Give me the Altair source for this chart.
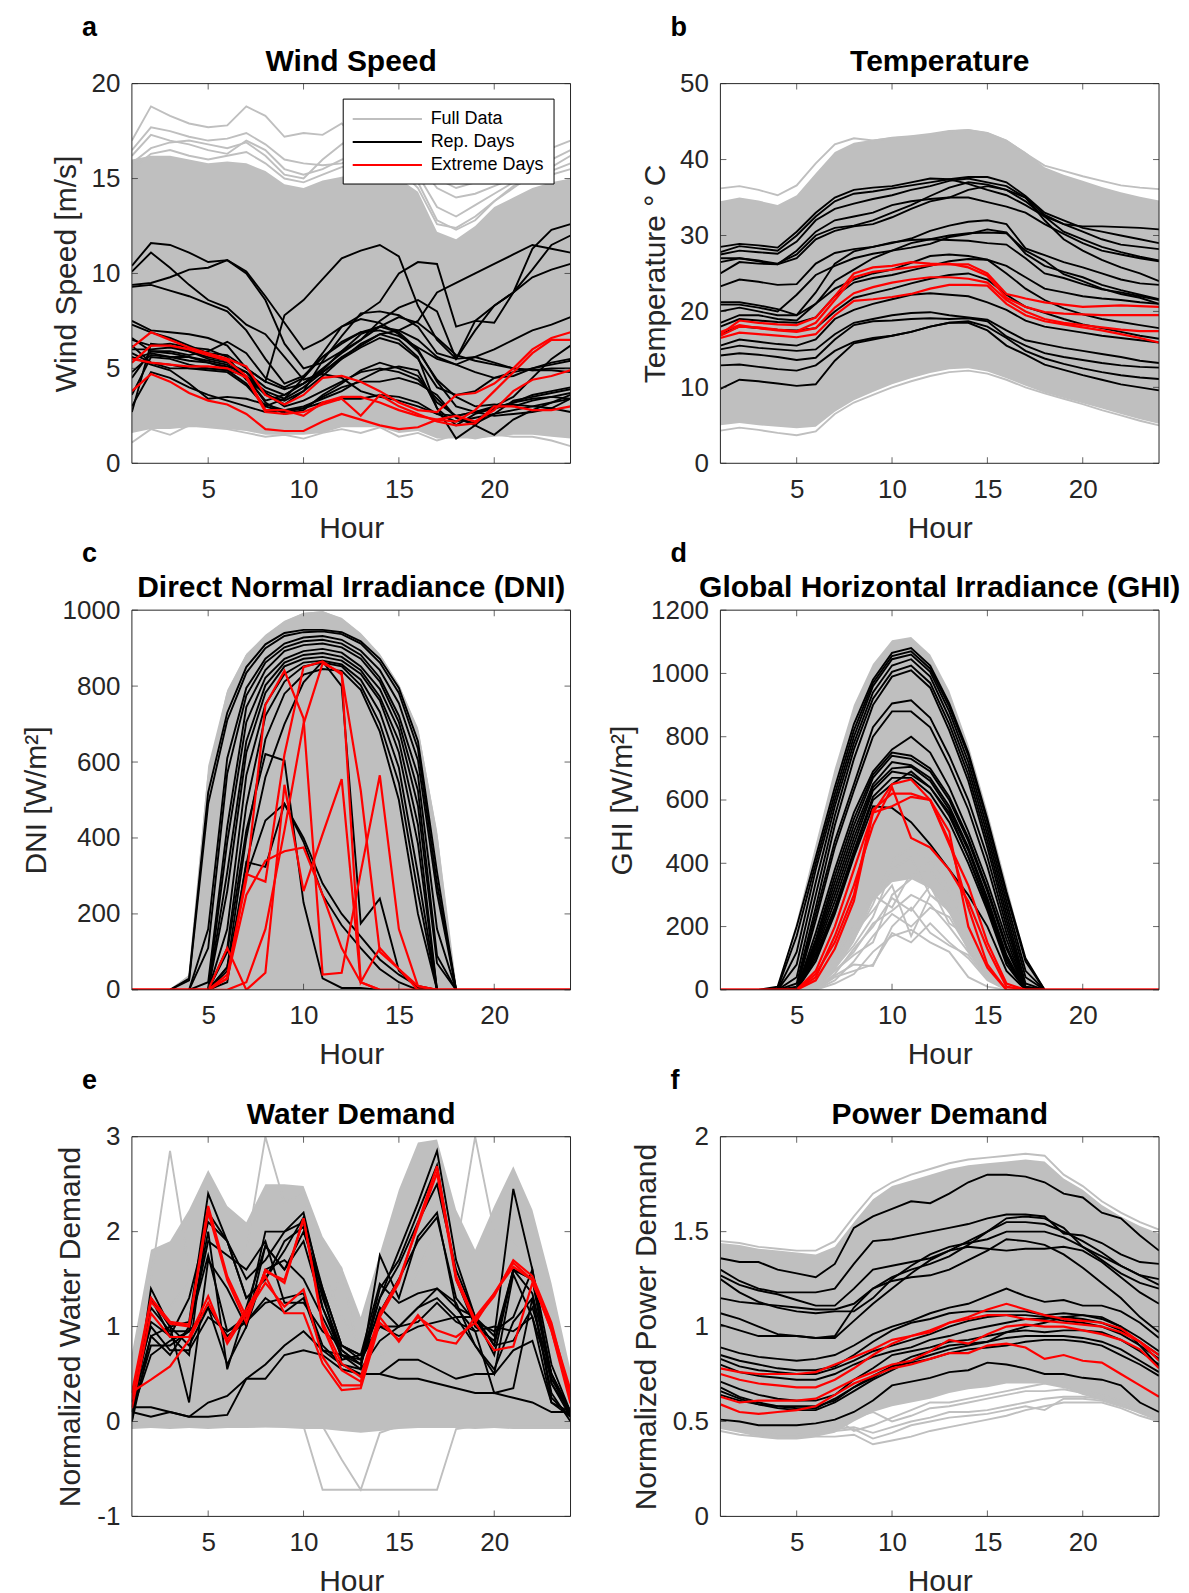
import altair as alt
import pandas as pd

FONT = "Liberation Sans"
AX = "#262626"
GRAY = "#bfbfbf"
CATS = ["Full Data", "Rep. Days", "Extreme Days"]
COLS = [GRAY, "#000000", "#ff0000"]
W, H = 439, 380
HOURS = list(range(1, 25))
X_TICKS = [5, 10, 15, 20]

# ---------------- a: Wind Speed ----------------
wind_hi = [16.0,16.2,16.2,16.0,15.8,15.9,15.8,15.4,14.7,14.5,14.9,15.1,15.3,15.1,15.0,14.3,12.2,11.8,12.5,13.5,14.0,14.5,14.8,15.0]
wind_lo = [1.6,1.8,1.8,1.9,1.9,1.8,1.7,1.5,1.5,1.5,1.6,1.9,1.9,1.9,1.6,1.7,1.3,1.3,1.3,1.4,1.5,1.5,1.4,1.3]
wind_gray = [
    [17.0,18.8,18.3,17.9,17.7,17.8,18.8,18.3,17.2,17.4,17.3,17.9,16.8,16.4,16.0,15.6,15.0,14.5,14.8,15.3,15.8,16.2,16.6,17.0],
    [16.5,17.7,17.5,17.2,17.0,17.1,17.4,16.8,16.0,15.8,15.7,15.8,16.2,16.0,15.5,14.5,12.6,12.4,13.0,13.8,14.5,15.2,15.6,16.2],
    [15.8,16.6,16.9,17.0,16.8,16.6,16.9,16.2,15.2,15.0,16.0,16.8,17.5,17.0,16.0,15.8,14.5,14.0,14.2,14.6,15.0,15.4,15.2,15.5],
    [16.2,17.3,17.0,16.8,16.5,16.3,17.0,16.5,15.5,15.2,15.5,16.0,16.3,16.2,15.8,15.2,13.5,13.0,13.6,14.2,14.8,15.5,16.0,16.5],
    [15.5,16.3,16.5,16.2,16.0,16.2,16.4,15.8,15.0,14.8,15.2,15.6,15.8,15.5,15.3,14.8,12.8,12.3,12.8,13.8,14.6,15.0,15.4,15.8],
    [1.1,1.8,1.5,2.0,1.9,1.8,1.6,1.4,1.5,1.3,1.6,1.8,1.6,1.9,1.4,1.6,1.2,1.5,1.3,1.5,1.4,1.4,1.2,0.9],
]
wind_rep = [
    [10.4,11.6,11.5,11.1,10.6,10.7,10.0,8.6,6.3,5.0,5.3,5.9,6.5,7.2,7.7,7.4,6.6,5.7,5.4,5.2,5.0,4.9,5.0,5.0],
    [10.1,11.1,10.3,9.4,8.6,8.2,7.3,6.8,5.6,4.4,4.7,4.5,3.8,3.5,3.3,3.0,2.6,2.5,2.7,2.5,2.6,2.7,2.9,3.4],
    [9.4,9.5,9.8,10.2,10.3,10.7,10.1,8.8,7.4,6.0,6.5,7.2,7.6,7.4,6.8,5.9,4.4,3.5,3.0,3.1,3.0,3.3,3.5,3.7],
    [9.3,9.4,9.1,8.8,8.4,8.0,7.0,5.5,4.2,4.6,5.6,6.4,6.9,7.0,6.7,6.1,5.5,5.2,4.8,4.5,4.6,5.0,5.3,5.5],
    [7.3,6.9,6.6,6.2,5.8,5.7,5.0,4.3,7.8,8.6,9.7,10.8,11.2,11.5,10.9,8.3,6.5,5.5,5.6,5.3,5.0,4.9,4.9,4.8],
    [6.6,5.9,5.9,5.7,5.9,6.4,5.8,4.5,4.0,4.5,5.8,7.2,7.8,8.5,10.0,10.6,10.5,7.2,7.5,7.4,9.0,11.3,12.3,12.6],
    [6.0,6.0,6.1,5.9,5.5,5.3,4.8,4.0,3.6,4.2,5.0,5.8,6.5,7.5,8.2,8.6,8.0,5.5,7.0,8.3,9.0,10.2,11.5,12.0],
    [5.5,5.8,5.6,5.4,5.3,5.0,4.6,3.8,3.4,4.0,4.8,5.6,6.2,6.8,7.0,7.5,9.0,9.5,10.0,10.5,11.0,11.5,11.3,11.1],
    [4.8,5.7,5.6,5.6,5.3,5.1,4.8,3.7,3.1,3.8,5.4,6.7,7.9,8.0,7.8,7.2,5.8,5.5,7.5,8.3,9.0,9.8,10.2,10.5],
    [3.6,5.6,5.5,5.2,5.0,4.9,4.2,3.0,3.4,4.5,5.6,6.3,6.9,7.2,7.0,6.5,5.6,5.2,5.6,6.0,6.5,7.0,7.3,7.7],
    [2.7,6.3,6.2,5.9,5.6,5.4,4.5,3.3,3.6,4.2,4.8,5.5,6.1,6.6,6.3,5.5,4.0,3.6,3.8,4.5,4.8,5.0,5.2,5.4],
    [6.2,5.3,5.0,5.0,5.0,4.9,4.6,3.2,2.6,2.8,3.6,4.2,4.9,5.3,5.0,4.6,3.2,2.5,2.7,2.9,3.2,3.6,3.8,4.0],
    [5.6,5.2,4.9,4.2,3.4,3.5,3.4,3.1,2.8,2.9,3.2,3.4,3.4,3.6,3.5,3.2,2.6,2.2,2.4,2.6,2.8,3.0,3.2,3.6],
    [3.0,4.8,4.5,4.0,3.6,3.3,3.0,2.7,2.8,3.0,3.4,3.8,4.4,4.9,5.1,4.9,2.9,2.0,2.6,2.9,3.2,3.4,3.5,3.4],
    [4.5,5.9,5.8,5.6,5.4,5.2,4.6,3.6,3.3,3.8,4.6,5.5,6.3,6.8,6.5,5.6,2.9,1.3,2.0,2.9,3.1,3.0,2.9,2.7],
    [5.8,5.3,5.2,5.0,4.9,4.8,4.1,3.0,2.7,2.9,3.5,4.0,4.3,4.3,4.5,4.2,3.6,2.4,2.0,1.5,2.3,2.8,3.2,3.4],
    [6.5,6.2,6.3,6.1,6.0,5.6,4.4,3.7,3.0,3.3,3.8,4.3,4.8,5.0,4.8,4.4,3.4,2.4,2.1,2.6,3.3,3.5,3.7,3.9],
    [7.5,7.0,6.9,6.8,6.6,6.2,5.0,4.3,3.9,4.2,4.9,5.9,6.8,7.2,6.9,6.0,4.3,3.0,2.7,3.0,3.5,4.5,5.5,6.2],
]
wind_ext = [
    [6.1,6.9,6.5,6.1,5.8,5.5,5.1,3.6,3.1,3.6,4.5,4.6,4.3,3.8,3.2,2.8,2.7,3.6,3.7,4.2,5.0,6.0,6.6,6.9],
    [5.3,6.2,6.2,6.0,5.7,5.4,4.6,2.8,2.8,2.5,3.2,3.5,3.5,3.2,2.8,2.5,2.3,2.2,2.8,3.8,4.8,5.8,6.5,6.5],
    [3.8,4.7,4.3,3.7,3.3,3.1,2.6,1.8,1.7,1.7,2.2,2.6,2.3,2.0,1.8,1.9,2.3,2.5,2.2,2.8,3.8,4.4,4.6,4.9],
    [5.5,5.3,5.2,5.1,5.1,5.0,4.5,2.7,2.6,2.7,3.1,3.4,2.5,3.6,3.0,2.6,2.2,2.0,2.1,3.0,3.0,2.8,2.8,3.0],
]

# ---------------- b: Temperature ----------------
temp_hi = [34.5,35.0,34.6,34.0,35.3,38.2,41.0,42.2,42.6,43.0,43.2,43.5,43.9,44.0,43.6,42.6,41.0,39.0,38.0,37.2,36.4,35.7,35.1,34.6]
temp_lo = [5.0,5.3,5.0,4.8,4.6,4.8,6.8,8.3,9.4,10.4,11.2,11.9,12.4,12.5,12.1,11.2,10.2,9.3,8.6,7.9,7.2,6.5,5.8,5.2]
temp_gray = [
    [36.2,36.5,36.0,35.3,36.6,39.5,42.0,42.8,42.5,42.8,43.0,43.2,43.7,43.9,43.5,42.5,40.8,39.2,38.5,37.8,37.2,36.6,36.3,36.1],
    [4.3,4.7,4.4,4.0,3.7,4.2,6.5,8.0,9.0,10.0,10.8,11.5,12.0,12.2,11.8,11.0,10.0,9.2,8.5,7.8,7.0,6.3,5.6,5.0],
]
temp_rep = [
    [28.5,28.9,28.7,28.4,30.5,33.0,35.0,36.0,36.3,36.5,37.0,37.5,37.4,36.8,36.0,35.3,34.0,32.5,31.5,31.2,31.2,31.1,31.0,30.8],
    [27.8,28.6,28.3,28.0,30.0,32.5,34.5,35.5,35.8,36.2,36.6,37.0,37.4,37.7,37.7,37.0,35.2,33.0,32.0,31.0,30.5,30.0,29.5,29.0],
    [27.5,28.0,27.8,27.6,29.2,32.0,33.5,34.2,34.8,35.3,36.0,36.5,37.2,37.5,37.0,36.5,35.0,32.7,31.5,30.5,29.5,28.8,28.5,28.2],
    [27.0,27.0,26.6,26.2,28.0,30.5,32.0,32.5,33.0,34.0,34.5,34.8,35.0,35.0,34.4,33.8,33.0,31.5,30.2,29.0,28.0,27.5,27.0,26.6],
    [26.5,27.0,26.7,26.3,27.5,30.0,31.0,31.3,32.0,33.0,34.0,35.2,36.3,37.0,36.7,36.0,34.5,32.5,30.5,29.5,28.5,27.8,27.2,26.7],
    [25.0,26.5,26.3,26.2,27.0,29.5,30.6,31.2,31.5,32.4,33.5,34.5,35.0,36.0,36.5,36.0,35.0,32.0,29.5,28.0,26.8,25.8,25.0,24.0],
    [23.3,24.2,23.9,23.5,23.6,26.3,27.7,28.2,28.5,29.0,29.6,30.6,31.3,31.8,32.0,31.5,28.3,27.4,26.5,25.8,25.0,24.2,23.7,23.5],
    [21.2,21.2,20.8,20.3,19.5,22.5,26.3,27.9,28.5,29.1,29.4,29.5,29.4,29.3,29.0,28.8,27.0,25.0,24.4,23.6,22.9,22.5,22.0,21.5],
    [20.9,20.9,20.5,20.0,22.2,24.8,26.0,27.0,27.6,28.0,28.4,28.9,29.8,30.2,30.8,30.4,27.6,26.0,25.2,24.5,23.5,22.8,22.2,21.6],
    [20.0,20.5,20.0,19.5,19.5,21.0,24.0,25.5,27.0,28.0,29.0,29.5,30.0,30.3,30.4,30.3,28.0,26.7,24.9,24.0,23.0,22.3,21.8,21.0],
    [18.5,19.5,19.5,19.0,18.8,21.0,23.0,24.2,25.0,25.5,26.4,27.3,27.5,27.3,26.8,26.0,24.5,23.0,22.5,22.0,21.7,21.5,21.2,21.0],
    [18.0,19.0,18.8,18.6,18.5,19.2,22.0,23.8,24.4,24.8,25.4,26.0,26.6,26.9,26.8,25.0,23.0,21.5,20.4,19.6,19.0,18.6,18.2,17.8],
    [17.0,18.0,17.8,17.6,17.5,17.8,20.0,21.8,22.4,23.0,23.7,24.3,24.8,25.0,24.2,22.2,20.6,19.8,19.0,18.3,17.8,17.3,16.8,16.4],
    [15.5,16.3,16.0,15.7,15.5,16.3,19.0,20.2,21.0,21.6,22.2,22.4,22.2,22.0,21.2,20.2,18.8,18.0,17.6,17.2,16.8,16.5,16.2,15.9],
    [15.0,15.5,15.2,15.0,14.8,15.0,17.0,18.5,19.0,19.5,19.8,19.9,19.5,19.2,18.9,17.5,16.2,15.7,15.2,14.8,14.4,14.0,13.5,13.2],
    [14.2,14.5,14.3,14.0,13.6,13.9,16.3,18.2,18.7,18.8,19.0,19.1,19.0,19.1,18.7,16.7,15.5,14.5,14.0,13.6,13.2,12.9,12.7,12.6],
    [12.9,13.0,12.7,12.4,12.2,12.9,14.8,16.0,16.5,16.8,17.3,18.0,18.5,18.7,18.0,16.5,14.8,13.8,13.1,12.5,12.0,11.6,11.3,11.1],
    [9.8,11.0,10.8,10.5,10.2,10.4,13.5,15.8,16.3,16.8,17.3,18.0,18.5,18.5,17.5,15.5,14.3,13.0,12.3,11.6,11.0,10.4,10.0,9.6],
]
temp_ext = [
    [17.0,18.8,18.5,18.3,18.2,19.2,22.0,25.0,25.8,26.0,26.5,26.3,26.2,26.2,25.0,22.3,21.7,21.2,20.9,20.6,20.7,20.8,20.7,20.6],
    [16.8,18.0,17.9,17.6,17.4,18.5,21.5,24.5,25.2,25.5,25.8,26.1,26.3,25.8,24.7,21.8,20.6,19.9,19.7,19.6,19.5,19.5,19.5,19.5],
    [17.3,18.2,17.8,17.5,17.3,17.8,20.5,22.4,23.2,23.8,24.2,24.5,24.5,24.3,23.8,21.5,20.0,19.0,18.5,18.2,17.9,17.6,17.4,17.4],
    [16.5,17.2,17.0,16.8,16.6,17.0,19.5,21.4,21.6,21.9,22.3,23.0,23.5,23.5,23.4,21.0,19.5,18.7,18.3,17.9,17.5,17.0,16.5,15.9],
]

# ---------------- c: DNI ----------------
dni_hi = [0,0,0,40,590,790,885,935,972,993,997,980,940,885,805,690,420,0,0,0,0,0,0,0]
dni_lo = [0,0,0,0,0,0,0,0,0,0,0,0,0,0,0,0,0,0,0,0,0,0,0,0]
dni_gray = [
    [0,0,0,35,560,780,880,930,968,990,995,975,935,880,800,680,400,0,0,0,0,0,0,0],
]
dni_rep = [
    [0,0,0,30,520,730,850,910,940,948,948,942,918,872,795,655,310,0,0,0,0,0,0,0],
    [0,0,0,25,490,710,835,900,932,942,944,937,912,862,782,635,280,0,0,0,0,0,0,0],
    [0,0,0,0,160,610,795,872,912,928,932,922,893,842,755,605,255,0,0,0,0,0,0,0],
    [0,0,0,0,110,570,775,862,902,918,922,912,882,822,722,565,160,0,0,0,0,0,0,0],
    [0,0,0,0,20,430,745,842,892,908,912,902,872,812,705,525,90,0,0,0,0,0,0,0],
    [0,0,0,0,0,390,705,822,872,892,898,888,852,792,685,485,70,0,0,0,0,0,0,0],
    [0,0,0,0,0,310,655,802,862,882,887,877,842,772,655,435,0,0,0,0,0,0,0,0],
    [0,0,0,0,0,260,625,782,852,872,877,867,832,762,625,385,0,0,0,0,0,0,0,0],
    [0,0,0,0,0,160,565,752,832,862,867,857,817,732,585,305,0,0,0,0,0,0,0,0],
    [0,0,0,0,0,110,485,722,812,852,862,852,802,702,545,255,0,0,0,0,0,0,0,0],
    [0,0,0,0,0,60,400,660,780,830,845,840,790,680,500,200,0,0,0,0,0,0,0,0],
    [0,0,0,0,0,20,337,324,490,400,280,200,140,80,40,10,0,0,0,0,0,0,0,0],
    [0,0,0,0,0,60,300,446,490,390,250,170,110,55,20,0,0,0,0,0,0,0,0,0],
    [0,0,0,0,0,100,420,621,604,230,30,5,5,0,0,0,0,0,0,0,0,0,0,0],
    [0,0,0,0,0,50,330,560,700,810,865,800,175,240,50,5,0,0,0,0,0,0,0,0],
]
dni_ext = [
    [0,0,0,0,0,40,290,750,840,715,40,45,310,565,160,10,0,0,0,0,0,0,0,0],
    [0,0,0,0,0,110,0,45,540,260,410,555,20,0,0,0,0,0,0,0,0,0,0,0],
    [0,0,0,0,0,30,250,340,365,375,250,110,20,0,0,0,0,0,0,0,0,0,0,0],
    [0,0,0,0,0,30,305,285,620,850,865,830,525,100,55,10,0,0,0,0,0,0,0,0],
    [0,0,0,0,0,0,20,160,420,700,860,835,20,110,55,0,0,0,0,0,0,0,0,0],
]

# ---------------- d: GHI ----------------
ghi_hi = [0,0,0,10,215,460,700,900,1030,1105,1115,1060,945,775,565,335,100,0,0,0,0,0,0,0]
ghi_lo = [0,0,0,0,0,10,60,150,280,340,350,320,240,120,30,0,0,0,0,0,0,0,0,0]
ghi_gray = [
    [0,0,0,0,0,0,40,60,80,180,150,210,150,100,30,0,0,0,0,0,0,0,0,0],
    [0,0,0,0,0,10,60,120,210,250,300,270,200,120,40,0,0,0,0,0,0,0,0,0],
    [0,0,0,0,0,15,100,180,250,330,170,300,250,150,60,0,0,0,0,0,0,0,0,0],
    [0,0,0,0,0,20,120,200,300,260,370,380,300,200,80,0,0,0,0,0,0,0,0,0],
    [0,0,0,0,0,5,50,130,200,290,250,330,210,170,50,0,0,0,0,0,0,0,0,0],
    [0,0,0,0,0,10,70,140,230,380,420,300,260,160,60,0,0,0,0,0,0,0,0,0],
    [0,0,0,0,0,0,30,90,170,240,200,260,230,130,50,0,0,0,0,0,0,0,0,0],
    [0,0,0,0,0,5,60,110,150,300,350,420,330,230,90,10,0,0,0,0,0,0,0,0],
    [0,0,0,0,0,0,45,80,75,200,260,180,140,110,35,0,0,0,0,0,0,0,0,0],
    [0,0,0,0,0,20,90,160,270,410,450,400,350,260,120,20,0,0,0,0,0,0,0,0],
    [0,0,0,0,0,0,20,50,120,170,190,150,120,40,10,0,0,0,0,0,0,0,0,0],
]
ghi_rep = [
    [0,0,0,10,200,420,640,840,980,1065,1080,1025,905,750,540,310,100,0,0,0,0,0,0,0],
    [0,0,0,5,170,400,620,820,970,1055,1070,1015,895,740,530,300,90,0,0,0,0,0,0,0],
    [0,0,0,0,120,380,600,800,960,1045,1060,1005,880,720,510,280,60,0,0,0,0,0,0,0],
    [0,0,0,0,80,340,580,780,940,1025,1045,990,860,700,490,260,40,0,0,0,0,0,0,0],
    [0,0,0,0,40,300,550,760,920,1005,1025,970,840,680,470,240,20,0,0,0,0,0,0,0],
    [0,0,0,0,20,260,520,730,900,990,1010,955,820,660,450,220,10,0,0,0,0,0,0,0],
    [0,0,0,0,10,240,470,650,830,905,915,860,740,600,420,200,10,0,0,0,0,0,0,0],
    [0,0,0,0,5,220,450,630,800,880,880,830,710,570,390,180,5,0,0,0,0,0,0,0],
    [0,0,0,0,0,180,380,560,690,760,800,750,640,500,340,160,0,0,0,0,0,0,0,0],
    [0,0,0,0,0,160,360,540,680,750,740,700,610,480,320,140,0,0,0,0,0,0,0,0],
    [0,0,0,0,0,150,340,520,670,740,730,690,600,470,310,130,0,0,0,0,0,0,0,0],
    [0,0,0,0,0,140,320,500,650,720,710,670,580,450,290,110,0,0,0,0,0,0,0,0],
    [0,0,0,0,0,130,300,480,640,700,705,660,570,440,280,100,0,0,0,0,0,0,0,0],
    [0,0,0,0,0,120,280,460,630,690,680,640,550,420,260,90,0,0,0,0,0,0,0,0],
    [0,0,0,0,0,110,260,440,610,670,670,620,530,400,250,80,0,0,0,0,0,0,0,0],
    [0,0,0,0,0,90,240,420,580,575,530,460,380,300,200,60,0,0,0,0,0,0,0,0],
    [0,0,0,0,0,100,250,430,600,650,690,640,560,420,270,100,5,0,0,0,0,0,0,0],
]
ghi_ext = [
    [0,0,0,0,0,60,200,380,560,650,665,600,460,330,150,20,0,0,0,0,0,0,0,0],
    [0,0,0,0,0,40,170,330,520,640,480,450,380,280,130,10,0,0,0,0,0,0,0,0],
    [0,0,0,0,0,50,150,300,570,620,620,600,470,260,80,0,0,0,0,0,0,0,0,0],
    [0,0,0,0,0,30,130,280,560,580,610,600,500,200,70,0,0,0,0,0,0,0,0,0],
]

# ---------------- e: Water Demand ----------------
water_hi = [0.72,1.81,1.9,2.23,2.65,2.27,2.1,2.5,2.5,2.48,1.95,1.63,1.1,1.77,2.44,2.94,2.97,2.23,1.81,2.27,2.69,2.23,1.46,0.54]
water_lo = [-0.08,-0.07,-0.08,-0.07,-0.08,-0.07,-0.07,-0.06,-0.07,-0.08,-0.08,-0.1,-0.12,-0.1,-0.08,-0.07,-0.07,-0.07,-0.08,-0.07,-0.08,-0.08,-0.08,-0.08]
water_gray = [
    [-0.05,-0.05,-0.05,-0.05,-0.05,-0.05,-0.05,-0.05,-0.05,-0.05,-0.72,-0.72,-0.72,-0.72,-0.72,-0.72,-0.72,-0.08,-0.05,-0.05,-0.05,-0.05,-0.05,-0.05],
    [-0.05,-0.05,-0.05,-0.05,-0.05,-0.05,-0.05,-0.05,-0.05,-0.05,-0.05,-0.4,-0.72,-0.12,-0.05,-0.05,-0.05,-0.05,-0.05,-0.05,-0.05,-0.05,-0.05,-0.05],
    [0.5,1.5,2.85,1.6,1.9,1.7,1.5,1.6,1.4,1.3,1.0,1.6,0.6,0.7,0.8,1.0,1.2,1.0,0.8,0.9,1.0,1.1,0.8,0.4],
    [0.3,0.9,1.2,1.5,1.9,1.7,1.8,3.0,2.3,2.4,1.6,1.1,0.8,1.2,1.6,2.0,2.3,1.5,1.2,1.3,1.8,1.7,0.9,0.3],
    [0.2,0.8,0.9,1.0,1.4,1.2,1.1,1.4,1.3,1.4,1.0,0.8,0.7,1.0,1.2,1.6,2.0,1.8,3.0,2.0,1.9,1.7,1.0,0.3],
]
water_rep = [
    [0.0,1.4,1.0,1.05,2.4,1.9,1.3,1.5,1.8,2.15,1.4,0.8,0.65,1.3,1.8,2.3,2.85,1.7,1.1,0.9,2.45,1.6,0.6,0.1],
    [0.1,1.3,0.9,1.3,2.1,1.9,1.3,1.5,1.9,2.05,1.3,0.75,0.6,1.4,1.7,2.2,2.7,1.5,1.0,0.85,1.6,1.5,0.5,0.05],
    [0.2,1.2,0.95,0.95,2.0,0.55,1.2,1.85,1.6,1.9,1.2,0.7,0.55,1.75,1.3,1.95,2.2,1.2,1.1,0.8,1.6,1.35,0.5,0.1],
    [0.15,0.9,0.7,1.0,1.75,0.95,1.1,2.0,2.0,2.2,1.35,0.65,0.7,1.15,1.5,1.9,2.15,1.3,1.05,0.95,1.1,1.6,0.4,0.05],
    [0.1,0.8,0.8,0.95,1.2,0.9,1.05,1.3,1.15,1.3,0.75,0.7,0.65,1.0,0.9,1.0,1.05,1.1,0.8,0.55,1.05,1.3,0.3,0.0],
    [0.3,1.0,0.75,0.75,1.1,0.95,1.05,1.25,1.3,1.35,0.8,0.6,0.55,0.85,1.0,1.2,1.4,1.2,0.95,0.3,0.35,1.3,0.25,0.05],
    [0.15,0.15,0.1,0.05,0.05,0.07,0.45,0.45,0.7,0.75,0.7,0.55,0.5,0.5,0.65,0.65,0.55,0.45,0.5,0.5,0.75,0.85,0.2,0.1],
    [0.0,0.9,1.0,0.2,1.7,1.4,1.0,1.85,1.6,2.0,1.4,0.8,0.7,1.45,1.25,1.35,1.4,1.25,0.8,0.5,1.55,1.1,0.2,0.05],
    [0.15,1.05,0.9,0.7,2.2,1.9,1.5,1.7,2.0,2.1,1.2,0.75,0.6,1.3,1.65,2.1,2.5,1.6,1.1,0.7,1.6,1.5,0.4,0.1],
    [0.2,1.3,1.0,0.8,1.2,0.6,1.0,1.6,1.7,1.5,1.1,0.7,0.6,1.2,1.0,1.2,1.3,1.1,1.1,0.8,0.85,1.2,0.5,0.1],
    [0.1,0.7,0.85,0.95,1.9,1.75,1.6,1.9,1.25,1.25,0.95,0.8,0.7,1.0,1.0,1.05,1.25,1.05,0.95,1.0,0.95,1.1,0.45,0.1],
    [0.1,0.05,0.1,0.05,0.2,0.27,0.45,0.6,0.8,0.95,0.75,0.6,0.5,0.5,0.45,0.45,0.4,0.35,0.3,0.3,0.25,0.2,0.1,0.1],
]
water_ext = [
    [0.30,1.30,1.05,1.02,2.27,1.53,1.10,1.58,1.49,2.14,1.00,0.54,0.42,1.10,1.46,2.09,2.69,1.53,1.07,1.32,1.70,1.53,1.04,0.26],
    [0.14,1.14,0.89,0.89,1.32,0.82,1.14,1.46,1.21,1.39,0.68,0.38,0.38,1.10,0.84,1.12,0.86,0.82,1.10,1.35,1.63,1.49,0.96,0.26],
    [0.31,0.44,0.58,0.86,1.25,0.86,1.18,1.53,1.14,1.14,0.61,0.33,0.35,1.04,0.86,1.10,0.96,0.89,1.04,0.75,0.79,1.46,1.00,0.33],
    [0.23,1.26,1.03,1.00,2.21,1.49,1.04,1.60,1.46,2.14,1.04,0.61,0.47,1.14,1.49,2.06,2.62,1.49,1.04,1.35,1.67,1.49,0.96,0.19],
]

# ---------------- f: Power Demand ----------------
power_hi = [1.44,1.43,1.41,1.40,1.39,1.38,1.42,1.55,1.67,1.74,1.77,1.80,1.83,1.85,1.86,1.87,1.88,1.87,1.78,1.72,1.64,1.58,1.53,1.49]
power_lo = [0.46,0.44,0.42,0.41,0.41,0.42,0.44,0.50,0.55,0.58,0.60,0.62,0.65,0.67,0.68,0.70,0.70,0.70,0.68,0.64,0.61,0.58,0.54,0.50]
power_gray = [
    [0.45,0.43,0.42,0.41,0.41,0.42,0.42,0.43,0.38,0.40,0.42,0.45,0.47,0.49,0.51,0.53,0.56,0.58,0.60,0.60,0.60,0.57,0.53,0.50],
    [0.50,0.48,0.46,0.45,0.45,0.45,0.46,0.47,0.44,0.47,0.50,0.52,0.55,0.55,0.56,0.58,0.60,0.62,0.63,0.63,0.62,0.60,0.56,0.52],
    [0.55,0.52,0.50,0.49,0.49,0.50,0.52,0.45,0.48,0.52,0.56,0.60,0.60,0.62,0.64,0.66,0.68,0.70,0.68,0.66,0.64,0.61,0.58,0.55],
    [0.48,0.46,0.44,0.43,0.43,0.44,0.45,0.46,0.41,0.44,0.48,0.50,0.52,0.53,0.54,0.56,0.58,0.56,0.62,0.62,0.61,0.58,0.55,0.51],
    [0.52,0.50,0.48,0.47,0.47,0.47,0.49,0.52,0.55,0.50,0.53,0.57,0.58,0.60,0.62,0.64,0.66,0.66,0.67,0.65,0.63,0.60,0.57,0.53],
    [1.45,1.44,1.42,1.41,1.40,1.40,1.45,1.58,1.70,1.76,1.80,1.83,1.86,1.88,1.89,1.90,1.91,1.90,1.80,1.74,1.66,1.60,1.55,1.51],
]
power_rep = [
    [1.36,1.34,1.34,1.30,1.28,1.26,1.33,1.52,1.58,1.62,1.66,1.65,1.70,1.76,1.80,1.80,1.79,1.76,1.70,1.68,1.60,1.57,1.48,1.40],
    [1.30,1.24,1.20,1.18,1.18,1.18,1.20,1.33,1.45,1.46,1.48,1.50,1.52,1.54,1.57,1.59,1.59,1.58,1.49,1.48,1.44,1.38,1.34,1.33],
    [1.27,1.22,1.19,1.17,1.14,1.11,1.11,1.20,1.30,1.32,1.34,1.36,1.40,1.45,1.50,1.55,1.55,1.54,1.50,1.45,1.39,1.32,1.27,1.25],
    [1.25,1.18,1.13,1.10,1.08,1.07,1.08,1.08,1.15,1.25,1.32,1.38,1.42,1.44,1.46,1.50,1.50,1.50,1.47,1.42,1.37,1.32,1.27,1.22],
    [1.15,1.13,1.12,1.11,1.10,1.09,1.09,1.12,1.20,1.26,1.30,1.33,1.37,1.43,1.50,1.57,1.58,1.57,1.52,1.42,1.35,1.28,1.23,1.20],
    [1.07,1.04,1.00,0.96,0.95,0.94,0.95,1.10,1.20,1.24,1.26,1.27,1.30,1.35,1.40,1.46,1.45,1.43,1.38,1.31,1.23,1.15,1.05,0.97],
    [1.01,0.98,0.95,0.95,0.95,0.94,0.94,1.03,1.12,1.20,1.28,1.35,1.40,1.42,1.41,1.40,1.41,1.41,1.42,1.40,1.34,1.26,1.18,1.12],
    [0.89,0.86,0.84,0.83,0.82,0.83,0.85,0.90,0.96,1.00,1.03,1.07,1.10,1.12,1.16,1.20,1.16,1.13,1.14,1.11,1.11,1.08,1.02,0.94],
    [0.85,0.82,0.80,0.78,0.77,0.77,0.79,0.85,0.92,0.98,1.02,1.04,1.07,1.08,1.08,1.08,1.08,1.06,1.07,1.06,1.04,1.00,0.94,0.87],
    [0.83,0.79,0.77,0.76,0.75,0.75,0.78,0.82,0.87,0.90,0.93,0.96,1.00,1.03,1.05,1.06,1.06,1.05,1.03,1.02,1.00,0.96,0.90,0.83],
    [0.80,0.76,0.74,0.73,0.72,0.72,0.75,0.80,0.84,0.87,0.89,0.93,0.95,0.98,1.00,1.02,1.04,1.04,1.05,1.04,1.02,0.98,0.92,0.85],
    [0.71,0.67,0.64,0.62,0.61,0.61,0.64,0.72,0.78,0.85,0.87,0.89,0.92,0.93,0.95,0.97,0.98,0.97,0.98,0.98,0.97,0.93,0.87,0.80],
    [0.68,0.63,0.60,0.58,0.57,0.57,0.62,0.68,0.74,0.79,0.84,0.87,0.90,0.91,0.92,0.94,0.95,0.95,0.95,0.94,0.92,0.88,0.82,0.76],
    [0.66,0.62,0.59,0.57,0.56,0.56,0.60,0.66,0.72,0.77,0.82,0.85,0.88,0.90,0.92,0.97,1.00,1.02,1.05,1.06,1.05,1.00,0.90,0.79],
    [0.51,0.50,0.48,0.48,0.48,0.49,0.51,0.55,0.61,0.69,0.71,0.73,0.76,0.77,0.81,0.80,0.78,0.75,0.75,0.73,0.72,0.69,0.60,0.55],
    [0.64,0.61,0.59,0.58,0.58,0.58,0.61,0.68,0.73,0.79,0.81,0.83,0.86,0.88,0.89,0.90,0.92,0.93,0.93,0.92,0.90,0.85,0.80,0.74],
]
power_ext = [
    [0.78,0.76,0.75,0.75,0.75,0.76,0.80,0.84,0.88,0.93,0.95,0.98,1.02,1.04,1.06,1.06,1.04,1.03,1.02,1.01,1.00,0.97,0.92,0.85],
    [0.75,0.72,0.70,0.69,0.68,0.68,0.72,0.78,0.85,0.91,0.95,0.97,1.02,1.05,1.09,1.12,1.09,1.06,1.04,1.03,1.02,0.99,0.92,0.82],
    [0.63,0.60,0.61,0.61,0.61,0.62,0.67,0.72,0.76,0.80,0.82,0.87,0.93,0.91,0.96,1.00,1.01,1.00,1.00,0.98,0.96,0.93,0.88,0.78],
    [0.59,0.55,0.54,0.55,0.56,0.58,0.64,0.70,0.74,0.78,0.80,0.83,0.86,0.86,0.90,0.91,0.89,0.83,0.85,0.82,0.81,0.75,0.69,0.63],
]


def long_df(lines, cat):
    recs = []
    for i, ys in enumerate(lines):
        for h, v in zip(HOURS, ys):
            recs.append((h, v, f"{cat}-{i}", cat))
    return pd.DataFrame(recs, columns=["hour", "value", "id", "cat"])


LABEL_EXPR = "replace(format(datum.value, '~g'), '\u2212', '-')"


def panel(letter, name, ytitle, title_x, ydom, yticks, lo, hi, gray, rep, ext, legend=None):
    X = alt.X("hour:Q",
              scale=alt.Scale(domain=[1, 24], nice=False, zero=False),
              axis=alt.Axis(values=X_TICKS, title="Hour", labelPadding=13,
                            titleY=65, titleBaseline="middle", labelExpr=LABEL_EXPR))
    Y = alt.Y("value:Q",
              scale=alt.Scale(domain=ydom, nice=False, zero=False),
              axis=alt.Axis(values=yticks, title=ytitle, labelPadding=12,
                            titleX=title_x, titleY=H / 2, titleAngle=270,
                            titleAlign="center", titleBaseline="middle",
                            labelExpr=LABEL_EXPR))
    if legend is None:
        color = alt.Color("cat:N", scale=alt.Scale(domain=CATS, range=COLS), legend=None)
    else:
        color = alt.Color("cat:N", scale=alt.Scale(domain=CATS, range=COLS), legend=legend)

    band_df = pd.DataFrame({"hour": HOURS, "value": lo, "value2": hi})
    band = alt.Chart(band_df).mark_area(color=GRAY, opacity=1).encode(
        x=X, y=Y, y2=alt.Y2("value2:Q"))
    gl = alt.Chart(long_df(gray, "Full Data")).mark_line(strokeWidth=1.9, clip=True).encode(
        x=X, y=Y, detail="id:N", color=color)
    rl = alt.Chart(long_df(rep, "Rep. Days")).mark_line(strokeWidth=1.9, clip=True).encode(
        x=X, y=Y, detail="id:N", color=color)
    el = alt.Chart(long_df(ext, "Extreme Days")).mark_line(strokeWidth=2.2, clip=True).encode(
        x=X, y=Y, detail="id:N", color=color)

    frame = alt.Chart(pd.DataFrame({"f": [0]})).mark_rect(
        fillOpacity=0, stroke=AX, strokeWidth=1).encode(
        x=alt.value(0), x2=alt.value(W), y=alt.value(0), y2=alt.value(H))

    xt = pd.DataFrame({"hour": X_TICKS})
    yt = pd.DataFrame({"value": yticks})
    tb = alt.Chart(xt).mark_tick(size=6, thickness=1, color=AX).encode(x=X, y=alt.value(H - 3))
    tt = alt.Chart(xt).mark_tick(size=6, thickness=1, color=AX).encode(x=X, y=alt.value(3))
    tl = alt.Chart(yt).mark_tick(size=6, thickness=1, color=AX).encode(y=Y, x=alt.value(3))
    tr = alt.Chart(yt).mark_tick(size=6, thickness=1, color=AX).encode(y=Y, x=alt.value(W - 3))

    name_t = alt.Chart(pd.DataFrame({"t": [name]})).mark_text(
        font=FONT, fontSize=30, fontWeight="bold", align="center", baseline="middle",
        color="#000000").encode(text="t:N", x=alt.value(W / 2), y=alt.value(-22))
    letter_t = alt.Chart(pd.DataFrame({"t": [letter]})).mark_text(
        font=FONT, fontSize=27, fontWeight="bold", align="left", baseline="middle",
        color="#000000").encode(text="t:N", x=alt.value(-50), y=alt.value(-56))

    return alt.layer(band, gl, rl, el, frame, tb, tt, tl, tr, name_t, letter_t).properties(
        width=W, height=H)


leg = alt.Legend(title=None, orient="none", legendX=211, legendY=15,
                 strokeColor="#000000", fillColor="#ffffff", padding=9,
                 labelFont=FONT, labelFontSize=18, labelColor="#000000",
                 symbolType="M-1,0H5.6", symbolSize=441, symbolStrokeWidth=2,
                 labelOffset=56, rowPadding=2)

pa = panel("a", "Wind Speed", "Wind Speed [m/s]", -65, [0, 20], [0, 5, 10, 15, 20],
           wind_lo, wind_hi, wind_gray, wind_rep, wind_ext, legend=leg)
pb = panel("b", "Temperature", "Temperature \u00b0 C", -65, [0, 50], [0, 10, 20, 30, 40, 50],
           temp_lo, temp_hi, temp_gray, temp_rep, temp_ext)
pc = panel("c", "Direct Normal Irradiance (DNI)", "DNI [W/m\u00b2]", -95, [0, 1000],
           [0, 200, 400, 600, 800, 1000], dni_lo, dni_hi, dni_gray, dni_rep, dni_ext)
pd_ = panel("d", "Global Horizontal Irradiance (GHI)", "GHI [W/m\u00b2]", -98, [0, 1200],
            [0, 200, 400, 600, 800, 1000, 1200], ghi_lo, ghi_hi, ghi_gray, ghi_rep, ghi_ext)
pe = panel("e", "Water Demand", "Normalized Water Demand", -61, [-1, 3], [-1, 0, 1, 2, 3],
           water_lo, water_hi, water_gray, water_rep, water_ext)
pf = panel("f", "Power Demand", "Normalized Power Demand", -74, [0, 2], [0, 0.5, 1, 1.5, 2],
           power_lo, power_hi, power_gray, power_rep, power_ext)

chart = alt.concat(
    pa, pb, pc, pd_, pe, pf, columns=2,
    spacing={"row": 147, "column": 150}, bounds="flush",
).resolve_scale(
    color="independent"
).properties(
    padding={"left": 14, "top": 5, "right": 0, "bottom": 0}
).configure_view(strokeWidth=0).configure_axis(
    grid=False, domain=False, ticks=False,
    labelFont=FONT, labelFontSize=26, labelColor=AX,
    titleFont=FONT, titleFontSize=30, titleFontWeight="normal", titleColor=AX,
)

chart.save("out.html", embed_options={"renderer": "svg", "actions": False})
